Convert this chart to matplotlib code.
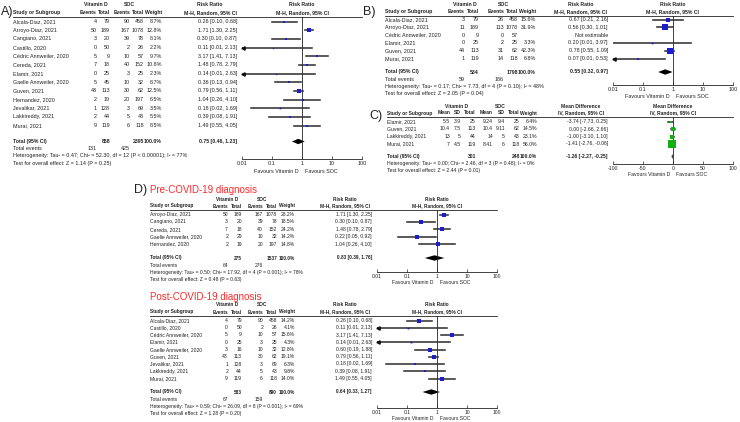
import matplotlib.pyplot as plt
import numpy as np

W, H = 740, 422
plt.rcParams['font.family'] = ['Liberation Sans', 'DejaVu Sans']

# ---------------- data ----------------
# A) all studies, mortality
a_studies = ['Alcala-Diaz, 2021', 'Arroyo-Diaz, 2021', 'Cangiano, 2021', 'Castillo, 2020',
             'Cédric Annweiler, 2020', 'Cereda, 2021', 'Elamir, 2021', 'Gaelle Annweiler, 2020',
             'Guven, 2021', 'Hernandez, 2020', 'Jevalikar, 2021', 'Lakkireddy, 2021', 'Murai, 2021']
a_vit_events = [4, 50, 3, 0, 5, 7, 0, 5, 43, 2, 1, 2, 9]
a_vit_total = [79, 189, 20, 50, 9, 18, 25, 45, 113, 19, 128, 44, 119]
a_soc_events = [90, 167, 39, 2, 10, 40, 3, 10, 30, 20, 3, 5, 6]
a_soc_total = [458, 1078, 78, 26, 57, 152, 25, 32, 62, 197, 69, 43, 118]
a_weight = [8.7, 12.8, 8.1, 2.2, 9.7, 10.8, 2.3, 8.7, 12.5, 6.5, 3.5, 5.5, 8.5]
a_rr = [0.26, 1.71, 0.30, 0.11, 3.17, 1.48, 0.14, 0.36, 0.79, 1.04, 0.18, 0.39, 1.49]
a_lo = [0.10, 1.30, 0.10, 0.01, 1.41, 0.78, 0.01, 0.13, 0.56, 0.26, 0.02, 0.08, 0.55]
a_hi = [0.68, 2.25, 0.87, 2.13, 7.13, 2.79, 2.63, 0.94, 1.11, 4.10, 1.69, 1.91, 4.05]
a_arrow = [0, 0, 0, 1, 0, 0, 1, 0, 0, 0, 0, 0, 0]
a_totals = [858, 2395]
a_pooled = [0.75, 0.46, 1.23]
a_total_events = [131, 425]
a_het = 'Heterogeneity: Tau² = 0.47; Chi² = 52.30, df = 12 (P < 0.00001); I² = 77%'
a_test = 'Test for overall effect: Z = 1.14 (P = 0.25)'

# B)
b_studies = ['Alcala-Diaz, 2021', 'Arroyo-Diaz, 2021', 'Cédric Annweiler, 2020', 'Elamir, 2021',
             'Guven, 2021', 'Murai, 2021']
b_vit_events = [3, 11, 0, 0, 44, 1]
b_vit_total = [79, 189, 9, 25, 113, 119]
b_soc_events = [26, 113, 0, 2, 31, 14]
b_soc_total = [458, 1078, 57, 25, 62, 118]
b_weight = [15.6, 31.9, None, 3.3, 42.3, 6.8]
b_rr = [0.67, 0.56, None, 0.20, 0.78, 0.07]
b_lo = [0.21, 0.30, None, 0.01, 0.55, 0.01]
b_hi = [2.16, 1.01, None, 3.97, 1.09, 0.53]
b_arrow = [0, 0, 0, 0, 0, 1]
b_totals = [534, 1798]
b_pooled = [0.55, 0.32, 0.97]
b_total_events = [59, 186]
b_het = 'Heterogeneity: Tau² = 0.17; Chi² = 7.73, df = 4 (P = 0.10); I² = 48%'
b_test = 'Test for overall effect: Z = 2.05 (P = 0.04)'

# C) mean difference
c_studies = ['Elamir, 2021', 'Guven, 2021', 'Lakkireddy, 2021', 'Murai, 2021']
c_vit_mean = ['5.5', '10.4', '13', '7']
c_vit_sd = ['3.9', '7.5', '5', '4.5']
c_vit_total = [25, 113, 44, 119]
c_soc_mean = ['9.24', '10.4', '14', '8.41']
c_soc_sd = ['9.4', '9.11', '5', '6']
c_soc_total = [25, 62, 43, 118]
c_weight = [6.4, 14.5, 23.1, 56.0]
c_md = [-3.74, 0.00, -1.00, -1.41]
c_lo = [-7.73, -2.66, -3.10, -2.76]
c_hi = [0.25, 2.66, 1.10, -0.06]
c_totals = [301, 248]
c_pooled = [-1.26, -2.27, -0.25]
c_het = 'Heterogeneity: Tau² = 0.00; Chi² = 2.46, df = 3 (P = 0.48); I² = 0%'
c_test = 'Test for overall effect: Z = 2.44 (P = 0.01)'

# D) pre-COVID-19 diagnosis
dp_studies = ['Arroyo-Diaz, 2021', 'Cangiano, 2021', 'Cereda, 2021', 'Gaelle Annweiler, 2020',
              'Hernandez, 2020']
dp_vit_events = [50, 3, 7, 2, 2]
dp_vit_total = [189, 20, 18, 29, 19]
dp_soc_events = [167, 39, 40, 10, 20]
dp_soc_total = [1078, 78, 152, 32, 197]
dp_weight = [28.2, 18.5, 24.2, 14.2, 14.8]
dp_rr = [1.71, 0.30, 1.48, 0.22, 1.04]
dp_lo = [1.30, 0.10, 0.78, 0.05, 0.26]
dp_hi = [2.25, 0.87, 2.79, 0.92, 4.10]
dp_arrow = [0, 0, 0, 0, 0]
dp_totals = [275, 1537]
dp_pooled = [0.83, 0.39, 1.76]
dp_total_events = [64, 276]
dp_het = 'Heterogeneity: Tau² = 0.50; Chi² = 17.92, df = 4 (P = 0.001); I² = 78%'
dp_test = 'Test for overall effect: Z = 0.48 (P = 0.63)'

# D) post-COVID-19 diagnosis
dq_studies = ['Alcala-Diaz, 2021', 'Castillo, 2020', 'Cédric Annweiler, 2020', 'Elamir, 2021',
              'Gaelle Annweiler, 2020', 'Guven, 2021', 'Jevalikar, 2021', 'Lakkireddy, 2021',
              'Murai, 2021']
dq_vit_events = [4, 0, 5, 0, 3, 43, 1, 2, 9]
dq_vit_total = [79, 50, 9, 25, 16, 113, 128, 44, 119]
dq_soc_events = [90, 2, 10, 3, 10, 30, 3, 5, 6]
dq_soc_total = [458, 26, 57, 25, 32, 62, 69, 43, 118]
dq_weight = [14.2, 4.1, 15.6, 4.3, 12.8, 19.1, 6.3, 9.8, 14.0]
dq_rr = [0.26, 0.11, 3.17, 0.14, 0.60, 0.79, 0.18, 0.39, 1.49]
dq_lo = [0.10, 0.01, 1.41, 0.01, 0.19, 0.56, 0.02, 0.08, 0.55]
dq_hi = [0.68, 2.13, 7.13, 2.63, 1.88, 1.11, 1.69, 1.91, 4.05]
dq_arrow = [0, 1, 0, 1, 0, 0, 0, 0, 0]
dq_totals = [583, 890]
dq_pooled = [0.64, 0.33, 1.27]
dq_total_events = [67, 159]
dq_het = 'Heterogeneity: Tau² = 0.59; Chi² = 26.09, df = 8 (P = 0.001); I² = 69%'
dq_test = 'Test for overall effect: Z = 1.28 (P = 0.20)'

rr_ticks = [0.01, 0.1, 1, 10, 100]
rr_ticklabels = ['0.01', '0.1', '1', '10', '100']
md_ticks = [-100, -50, 0, 50, 100]

BLUE = '#1c1cd0'
GREEN = '#10b010'
INK = '#222222'
CI = '#333333'

fig = plt.figure(figsize=(W / 100, H / 100), dpi=100)
bg = fig.add_axes([0, 0, 1, 1])
bg.set_xlim(0, W)
bg.set_ylim(H, 0)
bg.axis('off')


def txt(x, y, s, ha='left', size=3.9, bold=False, color=INK):
    bg.text(x, y, s, ha=ha, va='center', fontsize=size,
            fontweight='bold' if bold else 'normal', color=color)


def hline(x0, x1, y):
    bg.plot([x0, x1], [y, y], color=INK, lw=0.6)


def forest_axes(L, log=True, ticks=rr_ticks, labels=rr_ticklabels):
    x0, x1, y0, y1 = L['f0'], L['f1'], L['line'], L['axis']
    ax = fig.add_axes([x0 / W, 1 - y1 / H, (x1 - x0) / W, (y1 - y0) / H])
    ax.patch.set_visible(False)
    if log:
        ax.set_xscale('log')
    ax.set_xlim(ticks[0], ticks[-1])
    ax.set_ylim(y1, y0)
    ax.set_xticks(ticks)
    ax.set_xticklabels(labels)
    ax.minorticks_off()
    ax.set_yticks([])
    for s in ['left', 'right', 'top']:
        ax.spines[s].set_visible(False)
    ax.spines['bottom'].set_linewidth(0.6)
    ax.spines['bottom'].set_color(INK)
    ax.tick_params(axis='x', direction='in', length=2.5, width=0.5, pad=1.5,
                   labelsize=L['size'], colors=INK)
    ax.axvline(ticks[len(ticks) // 2], color=INK, lw=0.6)
    xc = (x0 + x1) / 2
    txt(xc - 3, y1 + L['fav'], 'Favours Vitamin D', ha='right', size=L['size'])
    txt(xc + 3, y1 + L['fav'], 'Favours SOC', ha='left', size=L['size'])
    return ax


def rr_panel(L, studies, ve, vt, se, st, wt, rr, lo, hi, arrow, totals, pooled, tev, het, test,
             title='Risk Ratio', sub='M-H, Random, 95% CI'):
    s = L['size']
    hs = s - 0.2
    x, c = L['x'], L['cols']
    fc = (L['f0'] + L['f1']) / 2
    # headers
    txt((c[0] - 15 + c[1]) / 2, L['h1'], 'Vitamin D', ha='center', size=hs, bold=True)
    txt((c[2] - 15 + c[3]) / 2, L['h1'], 'SOC', ha='center', size=hs, bold=True)
    txt(L['rr'] - 27, L['h1'], title, ha='center', size=hs, bold=True)
    txt(fc, L['h1'], title, ha='center', size=hs, bold=True)
    txt(x, L['h2'], 'Study or Subgroup', size=hs, bold=True)
    for cx, h in zip(c, ['Events', 'Total', 'Events', 'Total', 'Weight']):
        txt(cx, L['h2'], h, ha='right', size=hs, bold=True)
    txt(L['rr'] - 27, L['h2'], sub, ha='center', size=hs, bold=True)
    txt(fc, L['h2'], sub, ha='center', size=hs, bold=True)
    hline(x, L['f1'], L['line'])

    ax = forest_axes(L)
    for i, name in enumerate(studies):
        y = L['row0'] + i * L['dy']
        txt(x, y, name, size=s)
        for cx, v in zip(c[:4], [ve[i], vt[i], se[i], st[i]]):
            txt(cx, y, str(v), ha='right', size=s)
        if rr[i] is None:
            txt(L['rr'], y, 'Not estimable', ha='right', size=s)
            continue
        txt(c[4], y, f'{wt[i]:.1f}%', ha='right', size=s)
        txt(L['rr'], y, f'{rr[i]:.2f} [{lo[i]:.2f}, {hi[i]:.2f}]', ha='right', size=s)
        ax.plot([max(lo[i], 0.01), min(hi[i], 100)], [y, y], color=CI, lw=1.15)
        if arrow[i]:
            ax.plot(0.0105, y, marker='<', ms=2.4, color='#111111', clip_on=False)
        ax.plot(rr[i], y, 's', ms=L['k'] * np.sqrt(wt[i]), color=BLUE, mew=0)

    yt = L['total']
    txt(x, yt, 'Total (95% CI)', size=hs, bold=True)
    txt(c[1], yt, str(totals[0]), ha='right', size=hs, bold=True)
    txt(c[3], yt, str(totals[1]), ha='right', size=hs, bold=True)
    txt(c[4], yt, '100.0%', ha='right', size=hs, bold=True)
    txt(L['rr'], yt, f'{pooled[0]:.2f} [{pooled[1]:.2f}, {pooled[2]:.2f}]', ha='right', size=hs,
        bold=True)
    p, pl, ph = pooled
    ax.fill([pl, p, ph, p], [yt, yt - 2.7, yt, yt + 2.7], color='black', lw=0)
    txt(x, yt + 7.5, 'Total events', size=s)
    txt(c[0], yt + 7.5, str(tev[0]), ha='right', size=s)
    txt(c[2], yt + 7.5, str(tev[1]), ha='right', size=s)
    txt(x, yt + 14.5, het, size=s)
    txt(x, yt + 21.5, test, size=s)


# ---------------- panel A ----------------
LA = dict(x=13, cols=[97, 110, 130, 144, 162], rr=237, f0=242, f1=362,
          h1=5, h2=12.5, line=17, row0=21.5, dy=8.67, total=141.5, axis=159, fav=12.5,
          size=3.9, k=0.65)
txt(1, 12, 'A)', size=9)
rr_panel(LA, a_studies, a_vit_events, a_vit_total, a_soc_events, a_soc_total, a_weight,
         a_rr, a_lo, a_hi, a_arrow, a_totals, a_pooled, a_total_events, a_het, a_test)

# ---------------- panel B ----------------
LB = dict(x=385, cols=[465, 479, 504, 518, 536], rr=608, f0=613, f1=733,
          h1=4, h2=11.5, line=16, row0=19.5, dy=7.8, total=72, axis=85, fav=12,
          size=3.9, k=0.65)
txt(363, 12, 'B)', size=9)
rr_panel(LB, b_studies, b_vit_events, b_vit_total, b_soc_events, b_soc_total, b_weight,
         b_rr, b_lo, b_hi, b_arrow, b_totals, b_pooled, b_total_events, b_het, b_test)

# ---------------- panel C ----------------
LC = dict(x=387, cols=[450, 461, 476, 493, 505, 520, 537], rr=608, f0=613, f1=733,
          h1=106, h2=113, line=117, row0=121.5, dy=7.5, total=156.5, axis=164, fav=11,
          size=3.7, k=0.7)
s = LC['size']
hs = s - 0.1
cc = LC['cols']
fcC = (LC['f0'] + LC['f1']) / 2
txt(369, 116, 'C)', size=9)
txt((cc[0] - 12 + cc[2]) / 2, LC['h1'], 'Vitamin D', ha='center', size=hs, bold=True)
txt((cc[3] - 12 + cc[5]) / 2, LC['h1'], 'SOC', ha='center', size=hs, bold=True)
txt(LC['rr'] - 27, LC['h1'], 'Mean Difference', ha='center', size=hs, bold=True)
txt(fcC, LC['h1'], 'Mean Difference', ha='center', size=hs, bold=True)
txt(LC['x'], LC['h2'], 'Study or Subgroup', size=hs, bold=True)
for cx, h in zip(cc, ['Mean', 'SD', 'Total', 'Mean', 'SD', 'Total', 'Weight']):
    txt(cx, LC['h2'], h, ha='right', size=hs, bold=True)
txt(LC['rr'] - 27, LC['h2'], 'IV, Random, 95% CI', ha='center', size=hs, bold=True)
txt(fcC, LC['h2'], 'IV, Random, 95% CI', ha='center', size=hs, bold=True)
hline(LC['x'], LC['f1'], LC['line'])
axc = forest_axes(LC, log=False, ticks=md_ticks, labels=[str(t) for t in md_ticks])
for i, name in enumerate(c_studies):
    y = LC['row0'] + i * LC['dy']
    txt(LC['x'], y, name, size=s)
    vals = [c_vit_mean[i], c_vit_sd[i], c_vit_total[i], c_soc_mean[i], c_soc_sd[i],
            c_soc_total[i], f'{c_weight[i]:.1f}%']
    for cx, v in zip(cc, vals):
        txt(cx, y, str(v), ha='right', size=s)
    txt(LC['rr'], y, f'{c_md[i]:.2f} [{c_lo[i]:.2f}, {c_hi[i]:.2f}]', ha='right', size=s)
    axc.plot([c_lo[i], c_hi[i]], [y, y], color=CI, lw=1.15)
    axc.plot(c_md[i], y, 's', ms=LC['k'] * np.sqrt(c_weight[i]), color=GREEN, mew=0)
yt = LC['total']
txt(LC['x'], yt, 'Total (95% CI)', size=hs, bold=True)
txt(cc[2], yt, str(c_totals[0]), ha='right', size=hs, bold=True)
txt(cc[5], yt, str(c_totals[1]), ha='right', size=hs, bold=True)
txt(cc[6], yt, '100.0%', ha='right', size=hs, bold=True)
txt(LC['rr'], yt, f'{c_pooled[0]:.2f} [{c_pooled[1]:.2f}, {c_pooled[2]:.2f}]', ha='right',
    size=hs, bold=True)
p, pl, ph = c_pooled
axc.fill([pl, p, ph, p], [yt, yt - 2.7, yt, yt + 2.7], color='black', lw=0)
txt(LC['x'], yt + 7, c_het, size=s)
txt(LC['x'], yt + 14, c_test, size=s)

# ---------------- panel D ----------------
txt(134, 190, 'D)', size=9)
txt(150, 190, 'Pre-COVID-19 diagnosis', size=7, color='#ff2a2a')
LDP = dict(x=150, cols=[228, 242, 263, 277, 295], rr=372, f0=377, f1=497,
           h1=199.5, h2=206, line=210, row0=214.5, dy=7.4, total=258, axis=272, fav=10,
           size=3.6, k=0.65)
rr_panel(LDP, dp_studies, dp_vit_events, dp_vit_total, dp_soc_events, dp_soc_total, dp_weight,
         dp_rr, dp_lo, dp_hi, dp_arrow, dp_totals, dp_pooled, dp_total_events, dp_het, dp_test)

txt(150, 297, 'Post-COVID-19 diagnosis', size=7, color='#ff2a2a')
LDQ = dict(x=150, cols=[228, 242, 263, 277, 295], rr=372, f0=377, f1=497,
           h1=305, h2=312, line=316, row0=320.5, dy=7.25, total=392, axis=408, fav=10,
           size=3.6, k=0.65)
rr_panel(LDQ, dq_studies, dq_vit_events, dq_vit_total, dq_soc_events, dq_soc_total, dq_weight,
         dq_rr, dq_lo, dq_hi, dq_arrow, dq_totals, dq_pooled, dq_total_events, dq_het, dq_test)

fig.savefig('out.png', dpi=100)
